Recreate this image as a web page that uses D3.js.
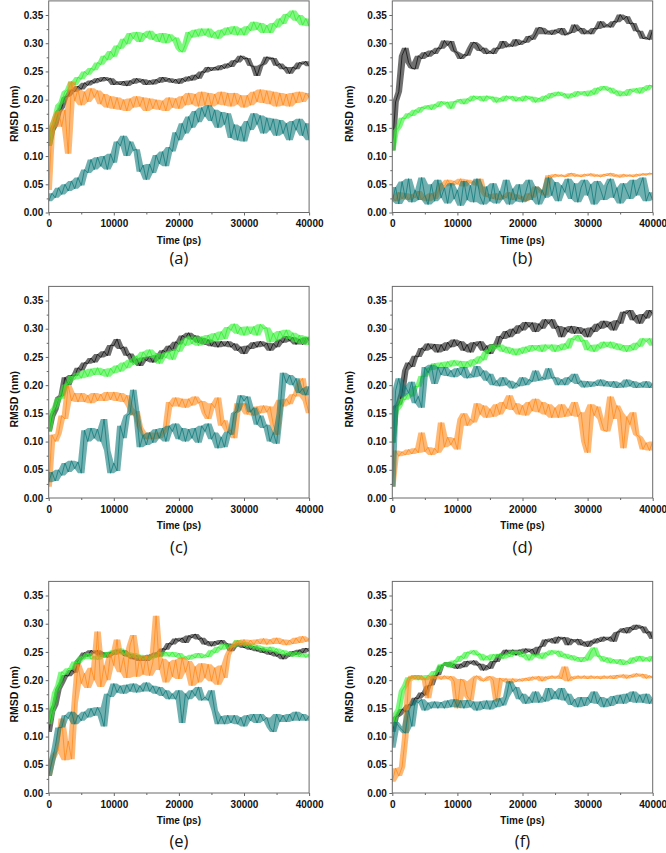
<!DOCTYPE html>
<html><head><meta charset="utf-8">
<script src="https://cdn.jsdelivr.net/npm/d3@7"></script>
<style>
html,body{margin:0;padding:0;background:#fff;}
svg{display:block;}
.tick text{font-family:"Liberation Sans",Arial,sans-serif;font-weight:bold;font-size:10px;fill:#111;}
</style></head>
<body>
<svg id="chart" width="666" height="853"></svg>
<script>
// Time axis (ps), one sample every 500 ps
const time = d3.range(0, 40001, 500);
const yTicks = [0, 0.05, 0.10, 0.15, 0.20, 0.25, 0.30, 0.35];
const xTicks = [0, 10000, 20000, 30000, 40000];
const panelLabels = ["(a)", "(b)", "(c)", "(d)", "(e)", "(f)"];
const seriesColors = ["#111111", "#2ef02e", "#ff8a1c", "#127b7b"];

// RMSD values in 1/1000 nm (black, green, orange, teal)
const blackA = [118,145,156,178,186,204,207,218,214,224, 218,230,225,234,229,238,232,240,234,238, 226,232,226,233,224,234,228,238,231,236, 226,234,227,236,230,240,232,238,230,236, 228,238,232,241,234,244,237,250,248,258, 251,258,252,261,255,264,258,270,266,278, 272,274,260,259,242,260,263,276,272,274, 260,264,254,258,246,258,254,266,263,268,259];
const greenA = [118,152,165,190,196,214,218,232,226,240, 236,250,244,256,252,266,262,278,270,286, 276,296,290,308,298,318,308,320,302,318, 310,322,306,316,302,318,300,316,304,310, 290,284,298,320,310,324,312,326,314,326, 310,320,308,324,314,328,316,330,314,326, 314,330,322,338,324,336,318,332,318,336, 328,344,334,352,346,358,340,350,332,344,330];
const orangeA = [40,150,168,180,152,182,104,232,198,218, 190,214,196,220,204,216,192,210,186,206, 184,204,182,200,180,202,186,206,188,204, 180,202,184,200,182,198,180,204,186,202, 184,206,190,212,192,210,188,214,190,212, 188,210,192,214,190,212,188,212,192,208, 186,208,190,214,196,218,194,216,192,214, 188,212,190,210,188,212,194,214,196,212,204];
const tealA = [20,34,26,44,32,50,38,56,42,62, 48,76,70,94,76,98,82,100,76,104, 88,126,118,136,100,126,110,112,72,84, 58,86,70,102,86,108,82,116,108,142, 128,158,140,170,150,180,160,186,170,190, 162,182,150,178,156,176,132,156,128,152, 126,162,146,176,156,172,140,168,146,166, 136,164,140,158,128,162,146,166,136,158,128];

const blackB = [110,196,214,278,292,266,256,254,278,272, 284,276,287,281,292,290,305,296,304,286, 283,272,280,278,292,302,298,286,292,281, 286,281,292,290,304,293,298,294,307,297, 304,301,313,306,316,328,327,316,322,315, 324,318,327,314,318,318,333,322,327,316, 322,316,327,325,339,328,333,328,339,337, 351,342,348,334,336,321,322,308,310,306,324];
const greenB = [110,144,151,168,166,176,171,182,177,187, 184,190,182,192,187,197,192,196,184,197, 196,201,192,202,197,207,201,206,197,207, 202,205,195,203,197,207,202,206,197,204, 197,207,201,205,195,203,197,207,202,212, 206,214,207,211,202,211,205,215,209,215, 206,216,209,221,216,224,216,221,211,216, 206,214,207,219,214,220,211,222,216,226,223];
const orangeB = [28,20,36,24,34,22,32,26,38,22, 30,20,34,24,36,52,46,58,48,56, 50,60,46,58,52,56,48,60,36,28, 32,24,34,22,30,26,36,22,32,24, 28,20,34,26,46,40,36,30,66,62, 68,64,67,63,66,70,64,67,63,68, 65,69,64,67,63,68,65,70,64,67, 62,68,64,67,63,68,65,69,66,70,68];
const tealB = [20,45,15,55,25,60,18,40,22,62, 30,14,50,20,58,26,44,16,52,24, 40,12,56,22,48,18,60,28,14,46, 20,52,16,38,24,58,14,42,20,50, 18,36,58,22,46,14,40,26,62,30, 54,20,48,36,60,24,52,18,44,58, 30,50,14,56,40,22,48,60,26,44, 16,52,38,24,58,30,46,62,20,36,22];

const blackC = [118,144,156,178,182,214,200,218,216,231, 226,240,238,248,240,255,249,260,252,271, 270,282,264,268,252,256,240,247,234,249, 243,251,240,253,246,262,258,270,261,277, 272,288,284,293,281,288,275,284,272,281, 269,278,267,278,269,278,267,274,261,268, 255,270,264,276,267,278,269,275,261,274, 267,281,275,287,278,285,272,282,272,285,279];
const greenC = [118,154,161,178,176,200,203,216,210,222, 212,226,215,229,218,231,218,228,215,230, 221,235,224,240,230,245,236,252,242,259, 251,263,248,257,238,256,248,260,245,264, 259,279,270,286,273,286,270,286,273,289, 276,292,279,295,282,303,297,309,291,303, 288,304,291,304,288,308,300,302,276,292, 279,296,285,298,282,293,276,289,273,286,271];
const orangeC = [20,112,100,114,146,140,200,172,186,170, 186,170,182,168,186,172,184,172,188,174, 188,172,186,170,182,160,146,154,126,116, 104,116,104,116,106,114,124,170,162,178, 162,176,160,176,164,180,168,172,150,140, 168,160,178,128,138,118,120,106,168,156, 168,148,156,146,162,150,164,152,162,130, 112,174,162,176,166,184,180,204,212,172,150];
const tealC = [28,46,30,50,40,62,46,66,52,64, 44,120,100,124,106,122,100,140,84,44, 62,48,128,106,146,150,192,148,90,112, 94,116,98,122,106,124,100,128,118,132, 104,124,100,122,106,124,98,128,118,132, 104,116,88,108,90,118,112,150,154,182, 172,180,152,160,130,146,124,130,100,116, 96,150,222,204,218,200,212,186,194,182,198];

const blackD = [98,162,166,186,226,240,232,252,250,266, 261,274,264,273,258,272,261,276,267,281, 270,278,261,272,258,276,270,278,261,270, 255,273,267,287,282,296,285,300,291,306, 297,312,303,311,294,309,300,317,309,317, 300,305,285,302,294,305,291,303,291,300, 285,302,294,309,300,314,303,312,297,315, 309,330,327,333,315,324,309,326,318,333,326];
const greenD = [98,154,161,176,174,186,180,198,197,216, 215,231,227,239,230,240,230,242,233,244, 235,243,230,242,233,246,238,251,244,262, 259,272,265,272,259,268,256,265,253,265, 256,268,259,271,262,271,259,272,265,272, 259,271,262,274,265,283,280,289,277,280, 262,271,259,272,265,277,268,277,265,274, 262,271,259,271,262,275,268,283,277,283,270];
const orangeD = [20,84,74,82,76,86,78,88,80,116, 82,90,76,88,80,134,90,108,94,106, 86,140,150,128,140,134,168,148,164,142, 158,144,166,148,170,158,182,156,168,148, 164,146,170,154,176,152,170,148,166,142, 160,142,166,144,158,146,170,144,152,100, 80,166,146,162,140,120,118,180,140,164, 152,88,144,130,152,112,108,86,98,84,100];
const tealD = [20,190,212,180,198,186,206,168,180,160, 232,222,236,202,232,218,232,216,226,214, 230,218,232,212,220,214,234,216,226,208, 220,200,208,198,214,200,208,194,204,198, 214,200,210,206,226,208,214,210,230,212, 214,200,210,200,214,206,220,202,208,196, 207,197,206,199,210,198,207,197,207,195, 204,196,210,198,207,195,204,196,207,195,203];

const blackE = [108,144,156,184,195,209,207,218,213,234, 240,249,242,253,248,253,242,249,240,250, 245,254,248,253,242,247,237,244,234,242, 234,245,240,249,242,256,254,266,263,274, 269,275,266,279,275,282,272,275,263,269, 260,269,263,271,263,265,251,263,260,266, 257,263,254,260,251,257,248,254,245,251, 242,247,237,247,242,251,245,254,248,257,251];
const greenE = [122,146,178,191,215,210,221,219,233,230, 242,237,248,237,242,236,245,240,250,244, 253,247,256,245,250,241,248,239,245,236, 242,236,245,240,250,242,250,242,250,241, 248,237,242,236,245,239,248,239,245,241, 253,248,259,254,265,256,262,259,271,262, 268,259,265,256,262,253,259,251,259,250, 256,247,253,244,250,242,250,241,248,240,246];
const orangeE = [30,58,70,76,132,58,92,60,160,228, 194,212,186,222,200,286,188,226,200,246, 226,272,214,240,204,262,280,206,242,210, 244,208,232,314,218,238,196,232,206,236, 202,240,214,234,190,224,196,230,204,228, 198,222,192,226,204,244,256,262,270,262, 272,262,271,263,272,264,274,263,272,264, 275,264,272,262,271,264,275,266,278,268,274];
const tealE = [30,56,82,116,116,138,132,144,122,138, 128,144,134,150,137,152,140,118,176,170, 194,178,190,176,192,180,194,178,190,180, 196,180,190,176,188,172,182,166,176,166, 182,124,176,166,182,172,188,164,170,164, 182,146,122,136,122,138,124,138,122,134, 118,138,128,140,124,140,128,134,116,108, 140,126,138,126,140,128,144,128,140,128,136];

const blackF = [108,134,138,149,144,157,155,169,167,178, 173,190,191,208,209,226,226,232,223,229, 220,229,223,234,229,235,226,229,217,226, 220,234,232,246,244,254,247,254,244,254, 247,256,250,255,244,259,259,272,268,274, 265,277,273,276,262,273,268,273,262,268, 259,270,265,274,268,277,271,277,268,285, 286,292,283,294,289,298,292,295,283,286,273];
const greenF = [118,139,149,181,191,205,203,209,200,208, 200,209,203,216,214,228,226,232,223,235, 232,243,238,250,247,253,244,247,235,243, 235,246,241,247,238,247,241,252,247,252, 241,246,235,246,241,247,238,249,244,253, 247,252,241,247,238,244,235,241,232,241, 235,250,258,242,243,233,240,230,237,229, 237,227,234,229,240,233,243,233,240,233,243];
const orangeF = [20,44,30,46,100,198,208,202,209,201, 204,168,208,202,207,201,208,202,207,198, 150,202,198,172,164,203,208,202,198,203, 207,200,162,204,198,203,194,203,197,202, 198,204,199,206,202,207,198,206,202,208, 203,208,202,224,198,206,202,208,203,208, 202,208,203,207,202,208,203,208,202,209, 205,210,203,209,205,212,207,211,203,208,204];
const tealF = [80,126,118,112,106,146,118,164,160,166, 146,160,150,162,150,161,150,164,152,166, 152,164,150,165,152,162,146,162,149,164, 148,164,152,168,155,170,198,180,188,166, 176,158,170,160,180,160,170,162,186,166, 180,166,186,164,176,156,166,152,170,154, 170,160,180,158,170,152,167,154,172,158, 174,158,176,162,180,160,174,160,176,158,168];

const panelSeries = [
  [blackA, greenA, orangeA, tealA],
  [blackB, greenB, orangeB, tealB],
  [blackC, greenC, orangeC, tealC],
  [blackD, greenD, orangeD, tealD],
  [blackE, greenE, orangeE, tealE],
  [blackF, greenF, orangeF, tealF]
];

// ---------- layout ----------
const colX = [48.7, 392.3];
const rowTop = [0.9, 286.4, 581.4];
const plotW = 260.4, plotH = 211.6;
const ylabelOffset = [34.7, 43.3];
const letterOffset = [51.5, 55, 54.5];

const svg = d3.select("#chart");
const defs = svg.append("defs");
defs.append("clipPath").attr("id", "plotclip")
  .append("rect").attr("x", 0).attr("y", -1).attr("width", plotW).attr("height", plotH + 1);

const x = d3.scaleLinear().domain([0, 40000]).range([0, plotW]);
const y = d3.scaleLinear().domain([0, 0.375]).range([plotH, 0]);
const line = d3.line().x((d, i) => x(time[i])).y(d => y(d / 1000));
// envelope of neighbouring samples, drawn as a translucent ribbon (the noise band)
const band = d3.area()
  .x((d, i) => x(time[i]))
  .y0((d, i, arr) => y(d3.min(arr.slice(Math.max(0, i - 1), i + 2)) / 1000))
  .y1((d, i, arr) => y(d3.max(arr.slice(Math.max(0, i - 1), i + 2)) / 1000));

panelSeries.forEach((series, p) => {
  const col = p % 2, row = Math.floor(p / 2);
  const g = svg.append("g").attr("transform", `translate(${colX[col]},${rowTop[row]})`);

  const plot = g.append("g").attr("clip-path", "url(#plotclip)");
  series.forEach((vals, s) => {
    plot.append("path").datum(vals)
      .attr("d", band)
      .attr("fill", seriesColors[s])
      .attr("opacity", 0.6);
    plot.append("path").datum(vals)
      .attr("d", line)
      .attr("fill", "none")
      .attr("stroke", seriesColors[s])
      .attr("stroke-width", 0.8)
      .attr("stroke-linejoin", "round");
  });

  // minor ticks
  const yMinor = d3.axisLeft(y).tickValues(d3.range(0.025, 0.375, 0.05)).tickSize(2).tickFormat("").tickSizeOuter(0);
  g.append("g").call(yMinor).call(a => a.select(".domain").remove()).selectAll("line").attr("stroke", "#666");
  const xMinor = d3.axisBottom(x).tickValues([5000, 15000, 25000, 35000]).tickSize(2).tickFormat("").tickSizeOuter(0);
  g.append("g").attr("transform", `translate(0,${plotH})`).call(xMinor)
    .call(a => a.select(".domain").remove()).selectAll("line").attr("stroke", "#666");

  // major axes
  const yAxis = d3.axisLeft(y).tickValues(yTicks).tickFormat(d3.format(".2f")).tickSize(3).tickPadding(2.5).tickSizeOuter(0);
  const ya = g.append("g").call(yAxis);
  ya.select(".domain").remove();
  ya.selectAll("line").attr("stroke", "#666");
  const xAxis = d3.axisBottom(x).tickValues(xTicks).tickFormat(d3.format("d")).tickSize(3).tickPadding(4.5).tickSizeOuter(0);
  const xa = g.append("g").attr("transform", `translate(0,${plotH})`).call(xAxis);
  xa.select(".domain").remove();
  xa.selectAll("line").attr("stroke", "#666");

  // frame
  g.append("rect").attr("x", 0).attr("y", 0).attr("width", plotW).attr("height", plotH)
    .attr("fill", "none").attr("stroke", "#6a6a6a").attr("stroke-width", 1);

  // axis titles
  g.append("text")
    .attr("transform", `translate(${-ylabelOffset[col]},${(y(0) + y(0.35)) / 2}) rotate(-90)`)
    .attr("text-anchor", "middle").attr("dominant-baseline", "central")
    .style("font-family", '"Liberation Sans",Arial,sans-serif').style("font-weight", "bold").style("font-size", "10.5px")
    .attr("fill", "#111").text("RMSD (nm)");
  g.append("text")
    .attr("x", plotW / 2).attr("y", plotH + 31.5)
    .attr("text-anchor", "middle")
    .style("font-family", '"Liberation Sans",Arial,sans-serif').style("font-weight", "bold").style("font-size", "10px")
    .attr("fill", "#111").text("Time (ps)");
  g.append("text")
    .attr("x", plotW / 2).attr("y", plotH + letterOffset[row])
    .attr("text-anchor", "middle")
    .style("font-family", '"Open Sans","Liberation Sans",sans-serif').style("font-size", "16.5px")
    .attr("fill", "#111").text(panelLabels[p]);
});
</script>
</body></html>
